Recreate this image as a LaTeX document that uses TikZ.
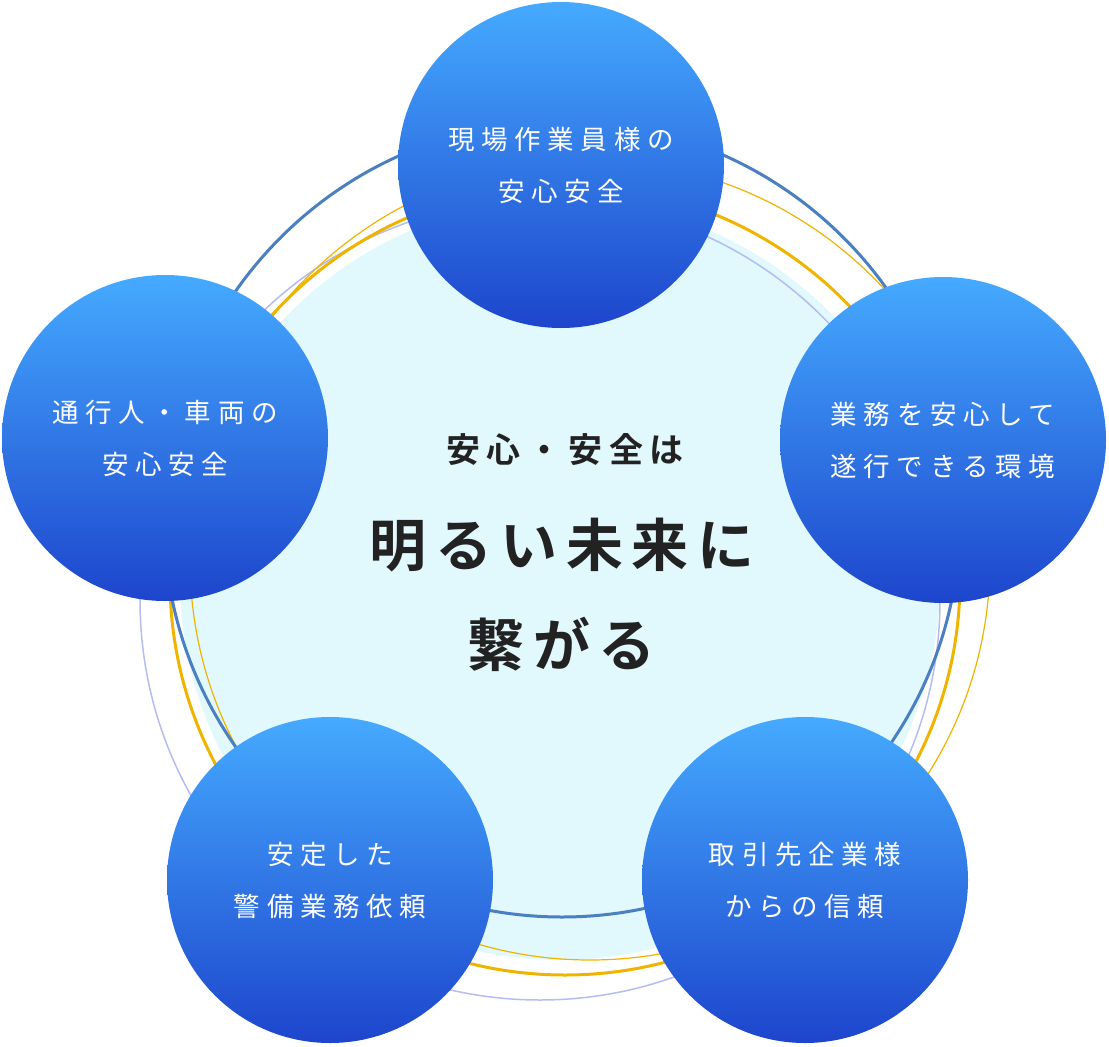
\documentclass[tikz,border=0pt]{standalone}
\usepackage{fontspec}
\setmainfont{Noto Sans CJK JP}
\newfontfamily\jpsp[LetterSpace=25]{Noto Sans CJK JP}
\newfontfamily\jpb[LetterSpace=20]{Noto Sans CJK JP Bold}
\newfontfamily\jpbb[LetterSpace=15]{Noto Sans CJK JP Bold}
\usetikzlibrary{shadings}
\definecolor{ctop}{HTML}{45AAFF}
\definecolor{cbot}{HTML}{1D45CC}
\definecolor{steel}{HTML}{4A7FC1}
\definecolor{gold}{HTML}{F0B400}
\definecolor{peri}{HTML}{B4BCF2}
\definecolor{cyanfill}{HTML}{E1F8FC}
\definecolor{ink}{HTML}{222222}
\begin{document}
\begin{tikzpicture}[x=1pt,y=-1pt,
  bub/.style={circle,minimum size=326pt,inner sep=0pt,top color=ctop,bottom color=cbot,text=white,font=\jpsp\fontsize{26.5}{52}\selectfont,align=center}]
\useasboundingbox (0,0) rectangle (1109,1047);
\fill[cyanfill] (560,580) circle (380);
\draw[peri,line width=1.5pt] (540,600) circle (400);
\draw[gold,line width=1.2pt] (590,560) circle (400);
\draw[gold,line width=3pt] (565,580) circle (395);
\draw[steel,line width=3pt] (562,519) circle (398);
\node[bub] (a) at (561,165) {現場作業員様の\\安心安全};
\node[bub] (b) at (943,440) {業務を安心して\\遂行できる環境};
\node[bub] (c) at (805,880) {取引先企業様\\からの信頼};
\node[bub] (d) at (330,880) {安定した\\警備業務依頼};
\node[bub] (e) at (165,438) {通行人・車両の\\安心安全};
\node[text=ink,font=\jpb\fontsize{34}{40}\selectfont] (t1) at (565,450) {安心・安全は};
\node[text=ink,font=\jpbb\fontsize{57}{100}\selectfont,align=center] (t2) at (562,595) {明るい未来に\\繋がる};
\end{tikzpicture}
\end{document}
